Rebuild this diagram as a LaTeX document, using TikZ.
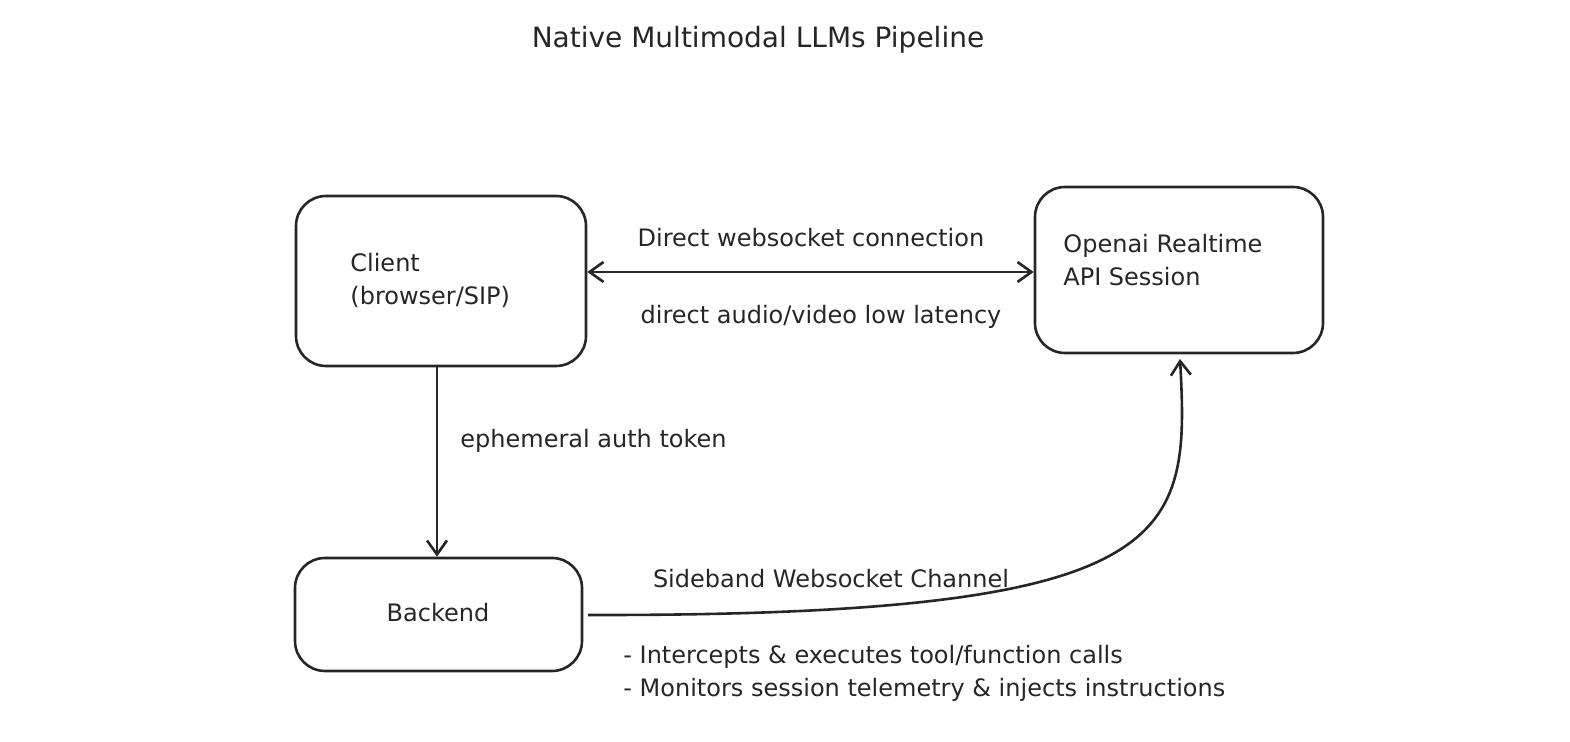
\documentclass[tikz,border=0pt]{standalone}
\usepackage{fontspec}
\setmainfont{DejaVu Sans}
\usetikzlibrary{arrows.meta}
\begin{document}
\begin{tikzpicture}[x=0.5pt,y=-0.5pt,
  box/.style={draw=black!85,line width=1.3pt,rounded corners=15pt},
  lbl/.style={font=\fontsize{12}{16.5}\selectfont,text=black!85,inner sep=0pt},
  conn/.style={draw=black!85,line width=1.3pt,-{Straight Barb[length=7pt,width=10pt]}},
  conn2/.style={conn,{Straight Barb[length=7pt,width=10pt]}-{Straight Barb[length=7pt,width=10pt]}}]
\useasboundingbox (0,0) rectangle (1570,742);
\node[lbl,font=\fontsize{14}{18}\selectfont] (title) at (758,40) {Native Multimodal LLMs Pipeline};
\node[box,minimum width=145pt,minimum height=85pt] (client) at (441,281) {};
\node[box,minimum width=144pt,minimum height=83pt] (openai) at (1179,270) {};
\node[box,minimum width=143.5pt,minimum height=56.5pt] (backend) at (438.5,614.5) {};
\node[lbl,anchor=west,align=left] (ct) at (350,280) {Client\\(browser/SIP)};
\node[lbl,anchor=west,align=left] (ot) at (1063,260) {Openai Realtime\\API Session};
\node[lbl] (bt) at (438,613) {Backend};
\draw[conn2] (client.east |- 0,272) -- (openai.west |- 0,272);
\node[lbl] (l1) at (811,238) {Direct websocket connection};
\node[lbl] (l2) at (821,317) {direct audio/video low latency};
\draw[conn] (client.south -| 437,0) -- (backend.north -| 437,0);
\node[lbl,anchor=west] (l3) at (460,441) {ephemeral auth token};
\coordinate (s) at (588,615);
\coordinate (e) at (1180,359);
\draw[conn] (s) .. controls (1180,616) and (1190,540) .. (e);
\node[lbl] (l4) at (831,579) {Sideband Websocket Channel};
\node[lbl,anchor=west,align=left] (l5) at (623,673) {- Intercepts \& executes tool/function calls\\- Monitors session telemetry \& injects instructions};
\end{tikzpicture}
\end{document}
